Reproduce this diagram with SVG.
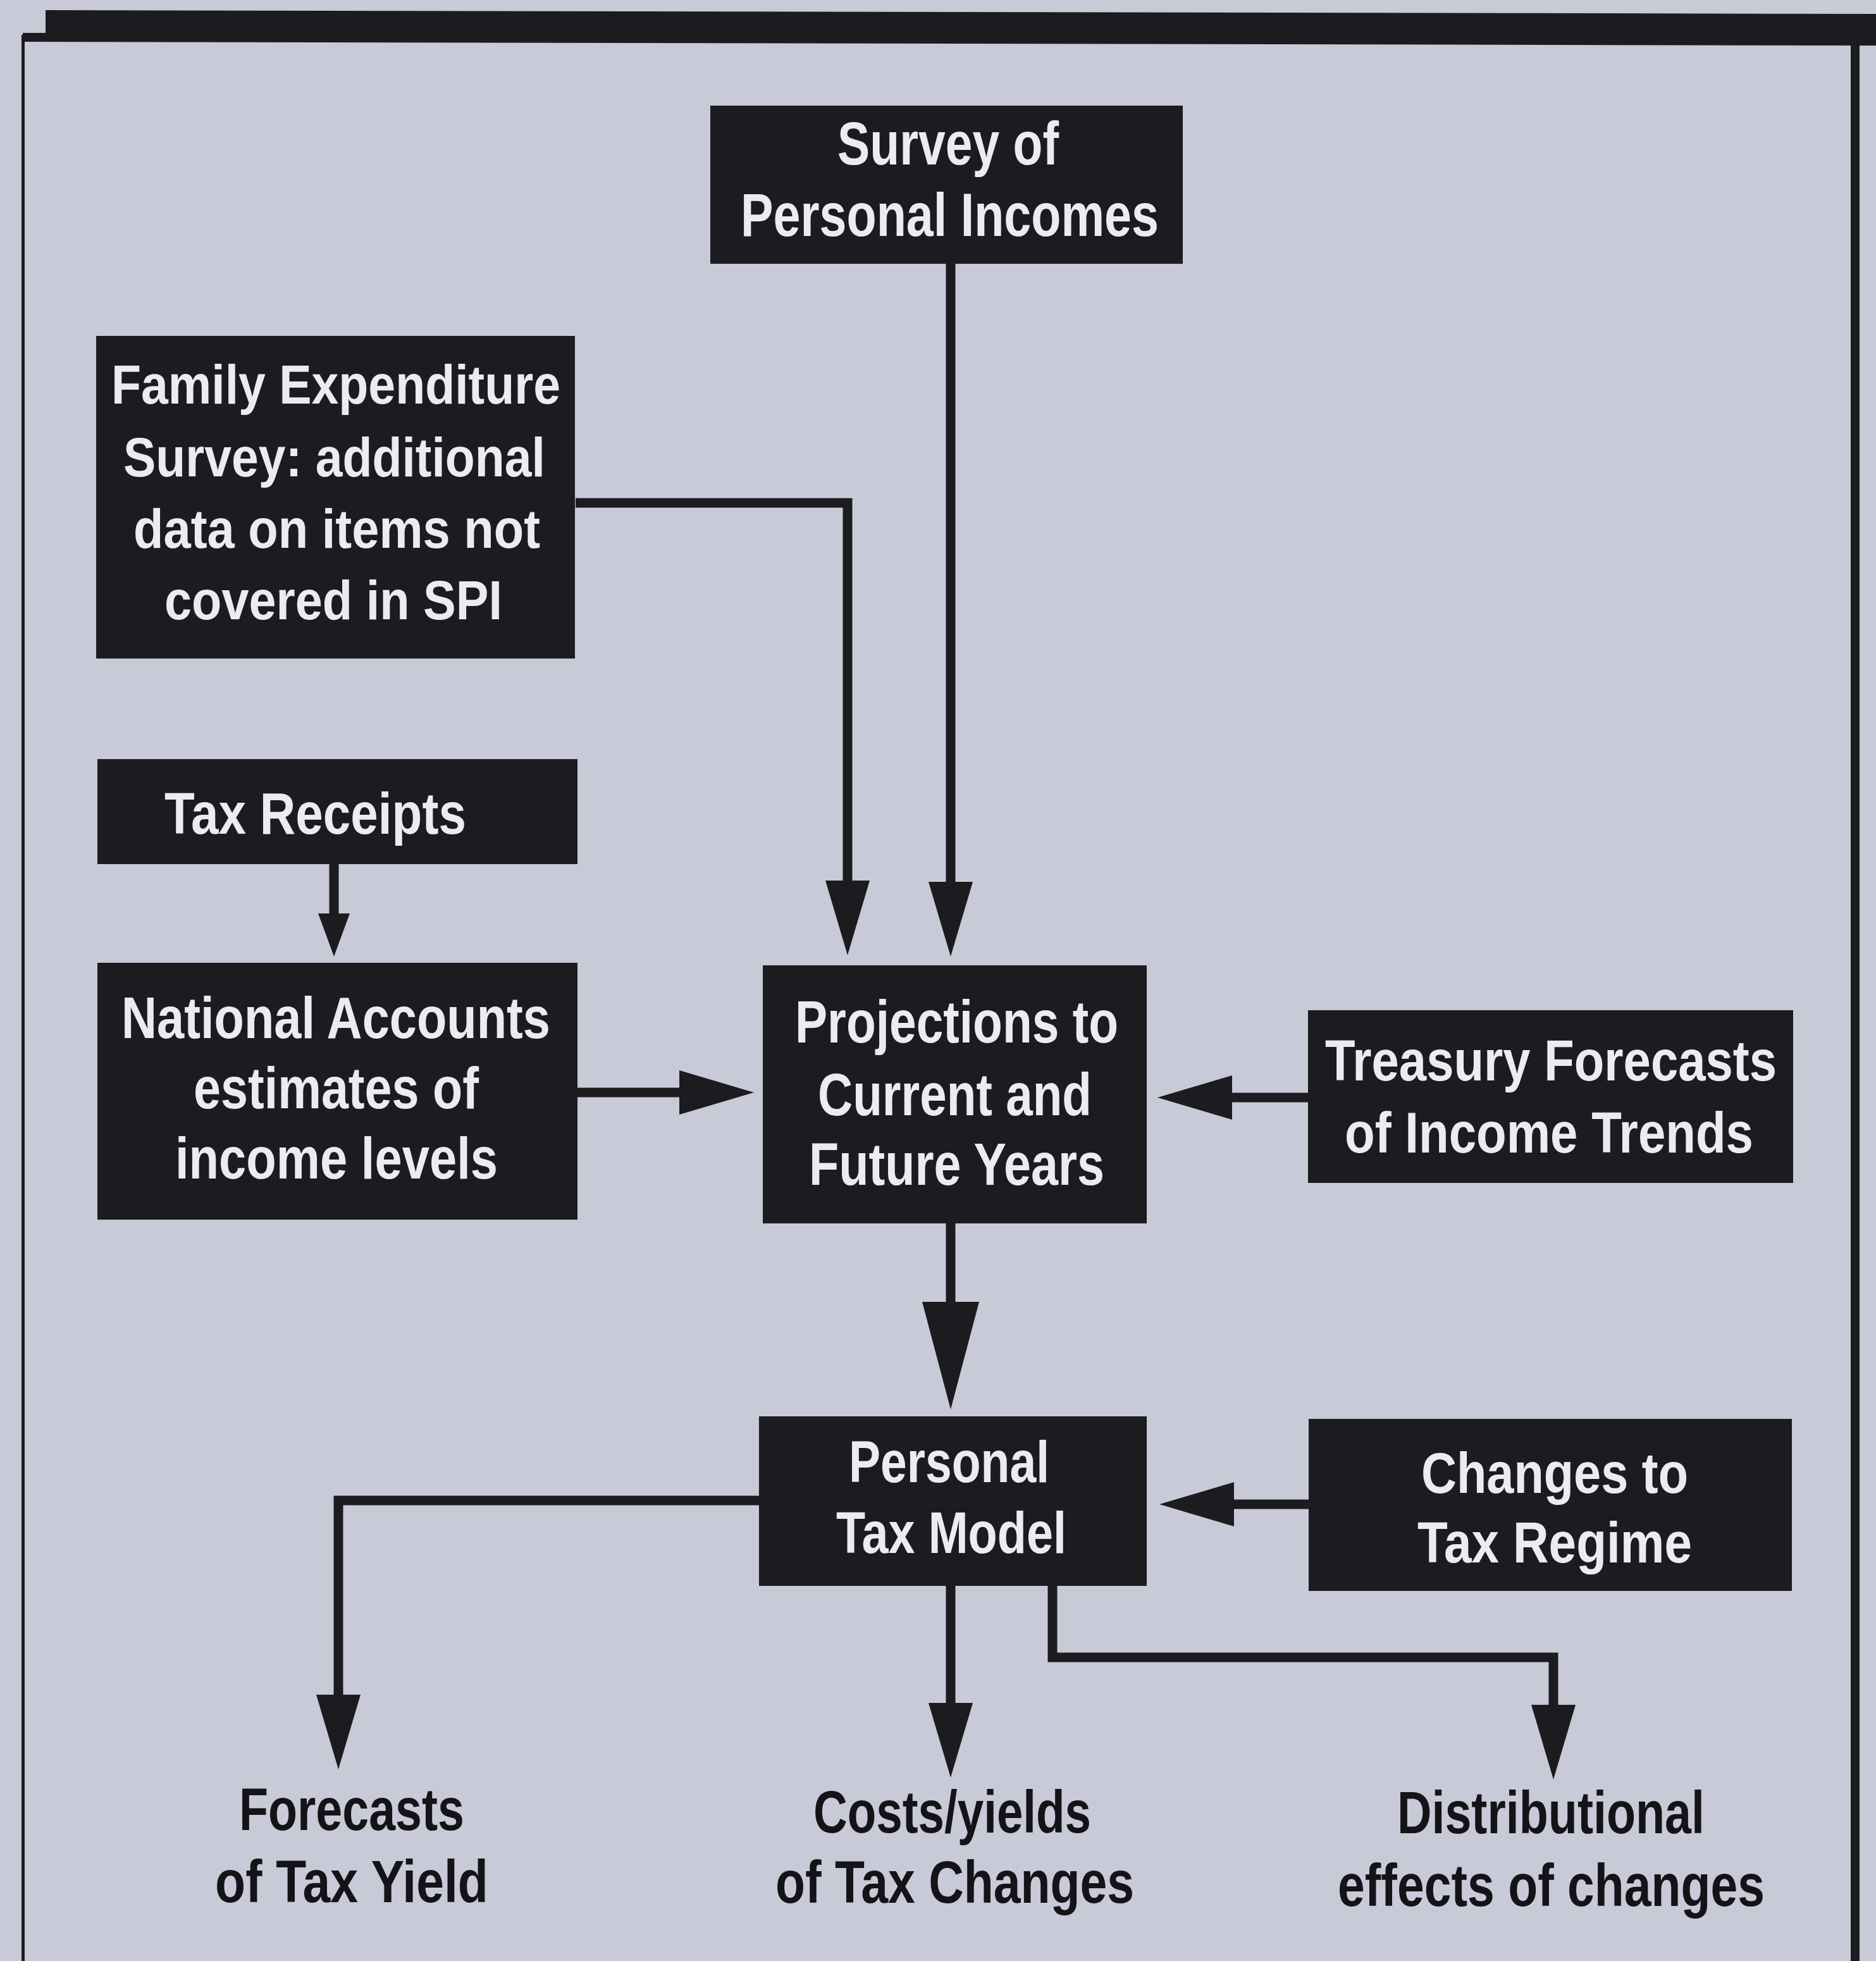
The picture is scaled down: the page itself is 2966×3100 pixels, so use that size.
<svg xmlns="http://www.w3.org/2000/svg" width="2966" height="3100" viewBox="0 0 2966 3100">
<style>
.bg{fill:#c9cad7}
.frame{fill:#1c1b20}
.box{fill:#1c1b20}
.bt{font-family:"Liberation Sans",Arial,Helvetica,sans-serif;font-weight:bold;fill:#ebebf1}
.lt{font-family:"Liberation Sans",Arial,Helvetica,sans-serif;font-weight:bold;fill:#141317}
.con{fill:none;stroke:#1c1b20;stroke-width:15;stroke-linejoin:miter;stroke-linecap:butt}
</style>
<defs>
<marker id="ah" markerUnits="userSpaceOnUse" markerWidth="120" markerHeight="70" viewBox="0 0 120 70" refX="2" refY="35" orient="auto"><path d="M0,0 L118,35 L0,70 Z" fill="#1c1b20"/></marker>
<marker id="ahs" markerUnits="userSpaceOnUse" markerWidth="70" markerHeight="50" viewBox="0 0 70 50" refX="2" refY="25" orient="auto"><path d="M0,0 L68,25 L0,50 Z" fill="#1c1b20"/></marker>
<marker id="ahl" markerUnits="userSpaceOnUse" markerWidth="172" markerHeight="90" viewBox="0 0 172 90" refX="2" refY="45" orient="auto"><path d="M0,0 L170,45 L0,90 Z" fill="#1c1b20"/></marker>
</defs>
<rect class="bg" x="0" y="0" width="2966" height="3100"/>
<g id="frame">
<polygon class="frame" points="72,16 2966,22 2966,72 36,66 36,52 72,52"/>
<rect class="frame" x="34" y="55" width="5" height="3045"/>
<rect class="frame" x="2926" y="68" width="14" height="3032"/>
</g>
<g id="connectors">
<path class="con" d="M1503,417 V1396" marker-end="url(#ah)"/>
<path class="con" d="M910,795 H1340 V1394" marker-end="url(#ah)"/>
<path class="con" d="M528,1366 V1446" marker-end="url(#ahs)"/>
<path class="con" d="M913,1727 H1076" marker-end="url(#ah)"/>
<path class="con" d="M2068,1735 H1946" marker-end="url(#ah)"/>
<path class="con" d="M1503,1934 V2060" marker-end="url(#ahl)"/>
<path class="con" d="M2069,2378 H1949" marker-end="url(#ah)"/>
<path class="con" d="M1202,2372 H535 V2681" marker-end="url(#ah)"/>
<path class="con" d="M1503,2507 V2694" marker-end="url(#ah)"/>
<path class="con" d="M1664,2507 V2620 H2456 V2697" marker-end="url(#ah)"/>
</g>
<g id="spi">
<rect class="box" x="1123" y="167" width="747" height="250"/>
<text class="bt" font-size="96" x="1324" y="260" textLength="350" lengthAdjust="spacingAndGlyphs">Survey of</text>
<text class="bt" font-size="96" x="1171" y="373" textLength="661" lengthAdjust="spacingAndGlyphs">Personal Incomes</text>
</g>
<g id="fes">
<rect class="box" x="152" y="531" width="757" height="510"/>
<text class="bt" font-size="88" x="176" y="638" textLength="710" lengthAdjust="spacingAndGlyphs">Family Expenditure</text>
<text class="bt" font-size="88" x="195" y="753" textLength="667" lengthAdjust="spacingAndGlyphs">Survey: additional</text>
<text class="bt" font-size="88" x="211" y="866" textLength="643" lengthAdjust="spacingAndGlyphs">data on items not</text>
<text class="bt" font-size="88" x="260" y="979" textLength="534" lengthAdjust="spacingAndGlyphs">covered in SPI</text>
</g>
<g id="taxreceipts">
<rect class="box" x="154" y="1200" width="759" height="166"/>
<text class="bt" font-size="92" x="260" y="1318" textLength="477" lengthAdjust="spacingAndGlyphs">Tax Receipts</text>
</g>
<g id="national">
<rect class="box" x="154" y="1522" width="759" height="406"/>
<text class="bt" font-size="92" x="192" y="1641" textLength="678" lengthAdjust="spacingAndGlyphs">National Accounts</text>
<text class="bt" font-size="92" x="306" y="1752" textLength="451" lengthAdjust="spacingAndGlyphs">estimates of</text>
<text class="bt" font-size="92" x="277" y="1863" textLength="510" lengthAdjust="spacingAndGlyphs">income levels</text>
</g>
<g id="projections">
<rect class="box" x="1206" y="1526" width="607" height="408"/>
<text class="bt" font-size="94" x="1257" y="1648" textLength="511" lengthAdjust="spacingAndGlyphs">Projections to</text>
<text class="bt" font-size="94" x="1293" y="1763" textLength="433" lengthAdjust="spacingAndGlyphs">Current and</text>
<text class="bt" font-size="94" x="1279" y="1873" textLength="467" lengthAdjust="spacingAndGlyphs">Future Years</text>
</g>
<g id="treasury">
<rect class="box" x="2068" y="1597" width="767" height="273"/>
<text class="bt" font-size="90" x="2095" y="1708" textLength="714" lengthAdjust="spacingAndGlyphs">Treasury Forecasts</text>
<text class="bt" font-size="90" x="2126" y="1822" textLength="646" lengthAdjust="spacingAndGlyphs">of Income Trends</text>
</g>
<g id="taxmodel">
<rect class="box" x="1200" y="2239" width="613" height="268"/>
<text class="bt" font-size="92" x="1342" y="2343" textLength="317" lengthAdjust="spacingAndGlyphs">Personal</text>
<text class="bt" font-size="92" x="1322" y="2455" textLength="364" lengthAdjust="spacingAndGlyphs">Tax Model</text>
</g>
<g id="changes">
<rect class="box" x="2069" y="2243" width="764" height="272"/>
<text class="bt" font-size="90" x="2247" y="2360" textLength="422" lengthAdjust="spacingAndGlyphs">Changes to</text>
<text class="bt" font-size="90" x="2241" y="2470" textLength="434" lengthAdjust="spacingAndGlyphs">Tax Regime</text>
</g>
<g id="forecasts">
<text class="lt" font-size="94" x="378" y="2893" textLength="356" lengthAdjust="spacingAndGlyphs">Forecasts</text>
<text class="lt" font-size="94" x="340" y="3007" textLength="432" lengthAdjust="spacingAndGlyphs">of Tax Yield</text>
</g>
<g id="costs">
<text class="lt" font-size="94" x="1286" y="2897" textLength="439" lengthAdjust="spacingAndGlyphs">Costs/yields</text>
<text class="lt" font-size="94" x="1226" y="3008" textLength="567" lengthAdjust="spacingAndGlyphs">of Tax Changes</text>
</g>
<g id="distributional">
<text class="lt" font-size="94" x="2209" y="2898" textLength="486" lengthAdjust="spacingAndGlyphs">Distributional</text>
<text class="lt" font-size="94" x="2115" y="3013" textLength="675" lengthAdjust="spacingAndGlyphs">effects of changes</text>
</g>
</svg>
